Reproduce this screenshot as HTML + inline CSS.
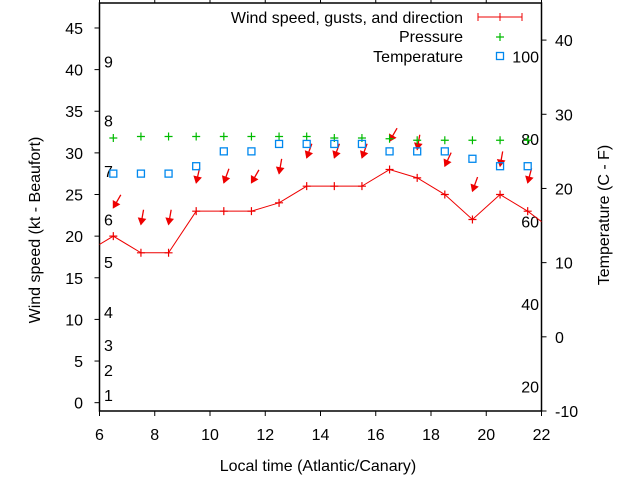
<!DOCTYPE html>
<html><head><meta charset="utf-8"><style>
body{margin:0;background:#fff}
svg{display:block;font-family:"Liberation Sans",sans-serif;font-size:16px}
</style></head><body>
<svg id="c" width="640" height="480" viewBox="0 0 640 480">
<g id="g"></g>
</svg>
<script>
const hours=[5.5,6.5,7.5,8.5,9.5,10.5,11.5,12.5,13.5,14.5,15.5,16.5,17.5,18.5,19.5,20.5,21.5,22.5];
const wind=[18,20,18,18,23,23,23,24,26,26,26,28,27,25,22,25,23,20.5];
const gust=[null,23.4,21.4,21.4,26.4,26.4,26.4,27.5,29.4,29.4,29.4,31.4,30.4,28.4,25.4,28.4,26.4,null];
const dirDeg=[null,30,10,10,13,20,30,10,20,20,20,30,10,25,20,10,15,null];
const pressure=[null,26.8,27,27,27,27,27,27,27,26.8,26.8,26.7,26.5,26.5,26.5,26.5,26.5,null];
const temp=[null,22,22,22,23,25,25,26,26,26,26,25,25,25,24,23,23,null];
const xTicks=[6,8,10,12,14,16,18,20,22];
const yTicks=[0,5,10,15,20,25,30,35,40,45];
const y2Ticks=[-10,0,10,20,30,40];
const beaufort=[[1,0.9],[2,3.9],[3,6.9],[4,10.9],[5,16.9],[6,22],[7,27.8],[8,33.9],[9,41]];
const fahr=[20,40,60,80,100];

const L=99.5,R=541.5,T=3,B=411;
const X=v=>L+(v-6)/16*(R-L);
const Y=v=>B-(v+1)/49*(B-T);
const Y2=v=>B-(v+10)/55*(B-T);
const g=document.getElementById('g');
const NS='http://www.w3.org/2000/svg';
function mk(t,a,p){const e=document.createElementNS(NS,t);for(const k in a)e.setAttribute(k,a[k]);(p||g).appendChild(e);return e;}
function txt(s,x,y,anchor,name,extra){const e=mk('text',Object.assign({x:x,y:y,'text-anchor':anchor||'start'},extra||{}));e.textContent=s;


return e;}

const defs=mk('defs',{});const cp=mk('clipPath',{id:'pc'},defs);mk('rect',{x:L,y:T,width:R-L,height:B-T},cp);

const fr=mk('rect',{x:L,y:T,width:R-L,height:B-T,fill:'none',stroke:'#000','stroke-width':1.5});



xTicks.forEach(v=>{const x=X(v);
 mk('line',{x1:x,y1:B,x2:x,y2:B+5,stroke:'#000'});
 mk('line',{x1:x,y1:T,x2:x,y2:T-5,stroke:'#000'});
 txt(String(v),x,440,'middle','x-tick-label');});
yTicks.forEach(v=>{const y=Y(v);
 mk('line',{x1:L-5,y1:y,x2:L,y2:y,stroke:'#000'});
 txt(String(v),83,y+6,'end','y-tick-label');});
y2Ticks.forEach(v=>{const y=Y2(v);
 mk('line',{x1:R,y1:y,x2:R+5,y2:y,stroke:'#000'});
 txt(String(v),555,y+6,'start','y2-tick-label');});
beaufort.forEach(b=>txt(String(b[0]),104,Y(b[1])+6,'start','beaufort-label'));
fahr.forEach(f=>txt(String(f),539,Y2((f-32)*5/9)+6,'end','fahrenheit-label'));

txt('Local time (Atlantic/Canary)',318,471,'middle','x-axis-title');
txt('Wind speed (kt - Beaufort)',40,230,'middle','y-axis-title',{transform:'rotate(-90 40 230)'});
txt('Temperature (C - F)',609,215,'middle','y2-axis-title',{transform:'rotate(-90 609 215)'});

const pg=mk('g',{'clip-path':'url(#pc)'});
let d='';hours.forEach((h,i)=>{d+=(i?'L':'M')+X(h)+' '+Y(wind[i]);});
const wl=mk('path',{d:d,fill:'none',stroke:'#e00',"stroke-width":1},pg);


hours.forEach((h,i)=>{const x=X(h),y=Y(wind[i]);
 const p=mk('path',{d:`M${x-4} ${y}H${x+4}M${x} ${y-4}V${y+4}`,stroke:'#e00','stroke-width':1.2},pg);
 
 });
hours.forEach((h,i)=>{if(gust[i]==null)return;const hx=X(h),hy=Y(gust[i]);const a=dirDeg[i]*Math.PI/180;
 const ux=Math.sin(a),uy=-Math.cos(a);const tx=hx+ux*15,ty=hy+uy*15;
 const bx=hx+ux*6,by=hy+uy*6,px=-uy*3.5,py=ux*3.5;
 const ag=mk('g',{},pg);
 
 
 mk('line',{x1:tx,y1:ty,x2:hx,y2:hy,stroke:'#e00','stroke-width':1.3},ag);
 mk('path',{d:`M${hx} ${hy}L${bx+px} ${by+py}L${bx-px} ${by-py}Z`,fill:'#e00',stroke:'#e00'},ag);});
hours.forEach((h,i)=>{if(pressure[i]==null)return;const x=X(h),y=Y2(pressure[i]);
 const p=mk('path',{d:`M${x-4} ${y}H${x+4}M${x} ${y-4}V${y+4}`,stroke:'#0b0','stroke-width':1.2},pg);
 
 });
hours.forEach((h,i)=>{if(temp[i]==null)return;const x=X(h),y=Y2(temp[i]);
 const r=mk('rect',{x:x-3.5,y:y-3.5,width:7,height:7,fill:'none',stroke:'#08e','stroke-width':1.3},pg);
 
 });

const lg=mk('g',{});


txt('Wind speed, gusts, and direction',463,23,'end','legend-wind-label');
mk('path',{d:'M478 17H522M478 13V21M522 13V21M500 13V21',stroke:'#e00','stroke-width':1},lg);
txt('Pressure',463,42,'end','legend-pressure-label');
mk('path',{d:'M496 37H504M500 33V41',stroke:'#0b0','stroke-width':1.2},lg);
txt('Temperature',463,62,'end','legend-temperature-label');
mk('rect',{x:496.5,y:52.5,width:7,height:7,fill:'none',stroke:'#08e','stroke-width':1.3},lg);
</script>
</body></html>
